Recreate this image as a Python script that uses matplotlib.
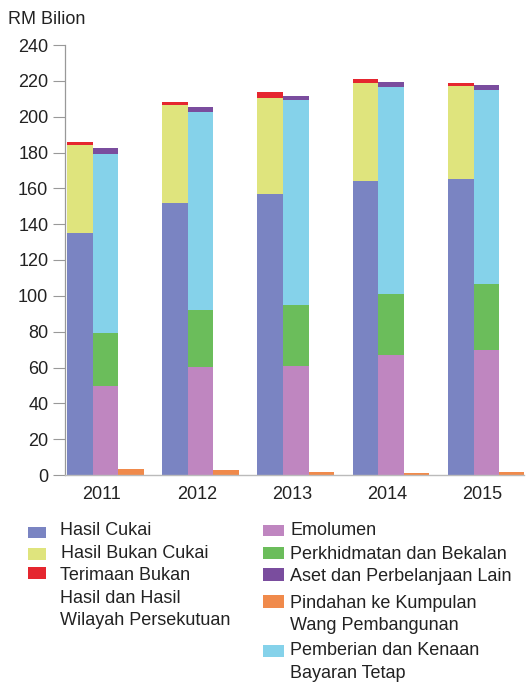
import matplotlib
matplotlib.use("Agg")
import matplotlib.pyplot as plt
from matplotlib.patches import Rectangle
import numpy as np

plt.rcParams['font.family'] = ['Liberation Sans', 'DejaVu Sans']

years = ["2011", "2012", "2013", "2014", "2015"]

# Revenue (RM billion), stacked
hasil_cukai = [134.9, 152.0, 156.7, 164.3, 165.2]
hasil_bukan_cukai = [49.3, 54.3, 53.9, 54.3, 51.9]
terimaan_bukan_hasil = [1.7, 2.1, 3.3, 2.3, 1.9]

# Operating expenditure (RM billion), stacked
emolumen = [49.7, 60.5, 60.8, 67.0, 69.8]
perkhidmatan = [29.7, 31.6, 34.1, 34.0, 36.6]
pemberian = [99.6, 110.3, 114.4, 115.4, 108.5]
aset = [3.5, 3.2, 2.4, 3.1, 2.8]

# Transfer to Development Fund (RM billion)
pindahan = [3.2, 2.8, 1.9, 1.3, 1.9]

yticks = [0, 20, 40, 60, 80, 100, 120, 140, 160, 180, 200, 220, 240]

C_CUKAI = "#7a84c2"
C_BUKAN = "#dfe47d"
C_TERIMAAN = "#e5262f"
C_EMOL = "#bf86c0"
C_PERK = "#6bbd5b"
C_ASET = "#7a4d9e"
C_PIND = "#f08a4b"
C_PEMB = "#85d2ea"

W, H = 526, 682
fig = plt.figure(figsize=(W / 100, H / 100), dpi=100)
ax = fig.add_axes([65 / W, (H - 475) / H, 459 / W, 430 / H])

x = np.arange(len(years))
bw = 0.268

# revenue bar
b1 = np.array(hasil_cukai)
b2 = b1 + np.array(hasil_bukan_cukai)
ax.bar(x - bw, hasil_cukai, bw, color=C_CUKAI, linewidth=0)
ax.bar(x - bw, hasil_bukan_cukai, bw, bottom=b1, color=C_BUKAN, linewidth=0)
ax.bar(x - bw, terimaan_bukan_hasil, bw, bottom=b2, color=C_TERIMAAN, linewidth=0)

# expenditure bar
e1 = np.array(emolumen)
e2 = e1 + np.array(perkhidmatan)
e3 = e2 + np.array(pemberian)
ax.bar(x, emolumen, bw, color=C_EMOL, linewidth=0)
ax.bar(x, perkhidmatan, bw, bottom=e1, color=C_PERK, linewidth=0)
ax.bar(x, pemberian, bw, bottom=e2, color=C_PEMB, linewidth=0)
ax.bar(x, aset, bw, bottom=e3, color=C_ASET, linewidth=0)

# transfer bar
ax.bar(x + bw, pindahan, bw, color=C_PIND, linewidth=0)

ax.set_ylim(0, 240)
ax.set_xlim(-0.423, 4.396)
ax.set_yticks(yticks)
ax.set_yticklabels([str(v) for v in yticks], fontsize=13, color="#222222")
ax.set_xticks(x - 0.04)
ax.set_xticklabels(years, fontsize=13, color="#222222")
ax.tick_params(axis='y', length=9, width=0.8, color="#999999", pad=3)
ax.tick_params(axis='x', length=0, pad=8)
for s in ("top", "right"):
    ax.spines[s].set_visible(False)
ax.spines["left"].set_color("#999999")
ax.spines["left"].set_linewidth(0.9)
ax.spines["bottom"].set_color("#bbbbbb")
ax.spines["bottom"].set_linewidth(1.0)

fig.text(8 / W, 1 - 23.5 / H, "RM Bilion", fontsize=13, color="#222222",
         ha="left", va="baseline")

# manual legend
def patch(x0, x1, ytop, ybot, color):
    fig.patches.append(Rectangle((x0 / W, 1 - ybot / H), (x1 - x0) / W,
                                 (ybot - ytop) / H, transform=fig.transFigure,
                                 color=color, linewidth=0))

def line(xp, yb, s):
    fig.text(xp / W, 1 - yb / H, s, fontsize=13, color="#222222",
             ha="left", va="baseline")

patch(28, 46, 527, 538, C_CUKAI)
patch(28, 46, 548, 560, C_BUKAN)
patch(28, 46, 567, 579, C_TERIMAAN)
line(60, 535, "Hasil Cukai")
line(61, 558, "Hasil Bukan Cukai")
line(60, 580, "Terimaan Bukan")
line(60, 603, "Hasil dan Hasil")
line(60, 625, "Wilayah Persekutuan")

patch(263, 284, 525, 536, C_EMOL)
patch(263, 284, 547, 559, C_PERK)
patch(263, 284, 568, 581, C_ASET)
patch(263, 284, 595, 608, C_PIND)
patch(263, 284, 645, 657, C_PEMB)
line(290, 535, "Emolumen")
line(290, 559, "Perkhidmatan dan Bekalan")
line(290, 581, "Aset dan Perbelanjaan Lain")
line(290, 608, "Pindahan ke Kumpulan")
line(290, 630, "Wang Pembangunan")
line(290, 655, "Pemberian dan Kenaan")
line(290, 678, "Bayaran Tetap")

fig.savefig("out.png", dpi=100)
